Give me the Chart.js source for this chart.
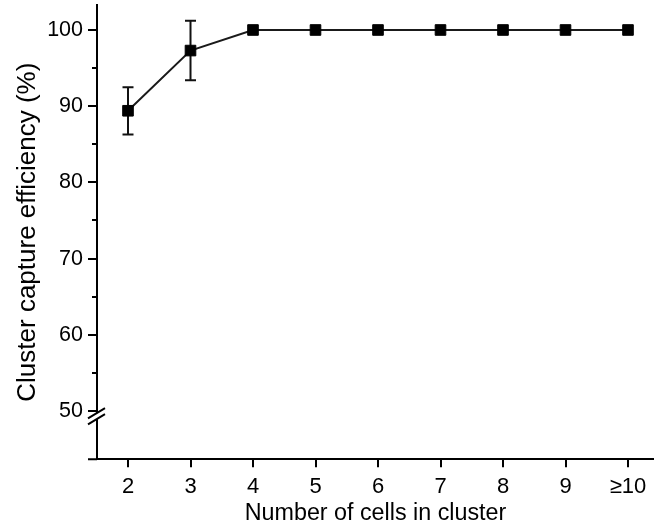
<!DOCTYPE html>
<html><head><meta charset="utf-8">
<script src="https://cdn.jsdelivr.net/npm/chart.js@4/dist/chart.umd.min.js"></script>
<style>html,body{margin:0;padding:0;background:#fff}canvas{display:block}</style>
</head><body>
<canvas id="c" width="654" height="531"></canvas>
<script>
const categories = ['2','3','4','5','6','7','8','9','≥10'];
const efficiency = [89.4, 97.3, 100, 100, 100, 100, 100, 100, 100];
const errorSD = [3.1, 3.9, 0, 0, 0, 0, 0, 0, 0];
const yMajorTicks = [50, 60, 70, 80, 90, 100];
const yMinorTicks = [55, 65, 75, 85, 95];
const xPositions = categories.map((_, i) => i + 2);

Chart.defaults.font.family = "'Liberation Sans', Arial, sans-serif";
Chart.defaults.color = '#000';

const decor = {
  id: 'decor',
  beforeDatasetsDraw(chart) {
    const {ctx, scales: {x, y}} = chart;
    ctx.save();
    ctx.strokeStyle = '#111';
    ctx.lineWidth = 2;
    xPositions.forEach((xv, i) => {
      const e = errorSD[i];
      if (!e) return;
      const px = x.getPixelForValue(xv);
      const top = y.getPixelForValue(efficiency[i] + e);
      const bot = y.getPixelForValue(efficiency[i] - e);
      ctx.beginPath();
      ctx.moveTo(px, top); ctx.lineTo(px, bot);
      ctx.moveTo(px - 5.5, top); ctx.lineTo(px + 5.5, top);
      ctx.moveTo(px - 5.5, bot); ctx.lineTo(px + 5.5, bot);
      ctx.stroke();
    });
    ctx.restore();
  },
  afterDraw(chart) {
    const {ctx, chartArea, scales: {y}} = chart;
    const ax = chartArea.left;
    ctx.save();
    ctx.strokeStyle = '#000';
    ctx.lineWidth = 2;
    ctx.beginPath();
    yMinorTicks.forEach(v => {
      const py = Math.round(y.getPixelForValue(v));
      ctx.moveTo(ax - 5, py); ctx.lineTo(ax, py);
    });
    ctx.moveTo(ax - 9, chartArea.bottom); ctx.lineTo(ax, chartArea.bottom);
    ctx.stroke();
    const y50 = y.getPixelForValue(50);
    const c1 = y50 + 2, c2 = y50 + 8, m = 0.6;
    ctx.fillStyle = '#fff';
    ctx.beginPath();
    ctx.moveTo(ax - 4, c1 + 4 * m); ctx.lineTo(ax + 4, c1 - 4 * m);
    ctx.lineTo(ax + 4, c2 - 4 * m); ctx.lineTo(ax - 4, c2 + 4 * m);
    ctx.closePath(); ctx.fill();
    ctx.beginPath();
    ctx.moveTo(ax - 9, c1 + 9 * m); ctx.lineTo(ax + 8, c1 - 8 * m);
    ctx.moveTo(ax - 9, c2 + 9 * m); ctx.lineTo(ax + 8, c2 - 8 * m);
    ctx.stroke();
    ctx.restore();
  }
};

new Chart(document.getElementById('c'), {
  type: 'line',
  data: {
    datasets: [{
      data: xPositions.map((xv, i) => ({x: xv, y: efficiency[i]})),
      borderColor: '#1a1a1a',
      borderWidth: 2,
      pointStyle: 'rect',
      pointRadius: 7.5,
      pointBackgroundColor: '#000',
      pointBorderColor: '#000',
      pointBorderWidth: 1,
      tension: 0,
      clip: false
    }]
  },
  options: {
    responsive: false,
    animation: false,
    devicePixelRatio: 1,
    layout: {autoPadding: false, padding: {top: 5, left: 0, right: 0, bottom: 0}},
    plugins: {legend: {display: false}, tooltip: {enabled: false}},
    scales: {
      x: {
        type: 'linear', min: 1.504, max: 10.416,
        afterBuildTicks: s => { s.ticks = xPositions.map(v => ({value: v})); },
        afterFit: s => { s.height = 71.7; s.paddingLeft = 0; s.paddingRight = 0; },
        grid: {display: true, drawOnChartArea: false, drawTicks: true, tickLength: 8, color: '#000', lineWidth: 2},
        border: {display: true, color: '#000', width: 2},
        ticks: {callback: v => categories[Math.round(v) - 2], font: {size: 22}, color: '#000', padding: 6, maxRotation: 0, autoSkip: false},
        title: {display: true, text: 'Number of cells in cluster', font: {size: 23.3}, color: '#000', padding: {top: 0, bottom: 3}}
      },
      y: {
        type: 'linear', min: 43.66, max: 103.28,
        afterBuildTicks: s => { s.ticks = yMajorTicks.map(v => ({value: v})); },
        afterFit: s => { s.width = 97; s.paddingTop = 0; s.paddingBottom = 0; },
        grid: {display: true, drawOnChartArea: false, drawTicks: true, tickLength: 9, color: '#000', lineWidth: 2},
        border: {display: true, color: '#000', width: 2},
        ticks: {callback: v => String(v), font: {size: 21.5}, color: '#000', padding: 5},
        title: {display: true, text: 'Cluster capture efficiency (%)', font: {size: 26}, color: '#000', padding: {top: 12, bottom: 0}}
      }
    }
  },
  plugins: [decor]
});
</script>
</body></html>
